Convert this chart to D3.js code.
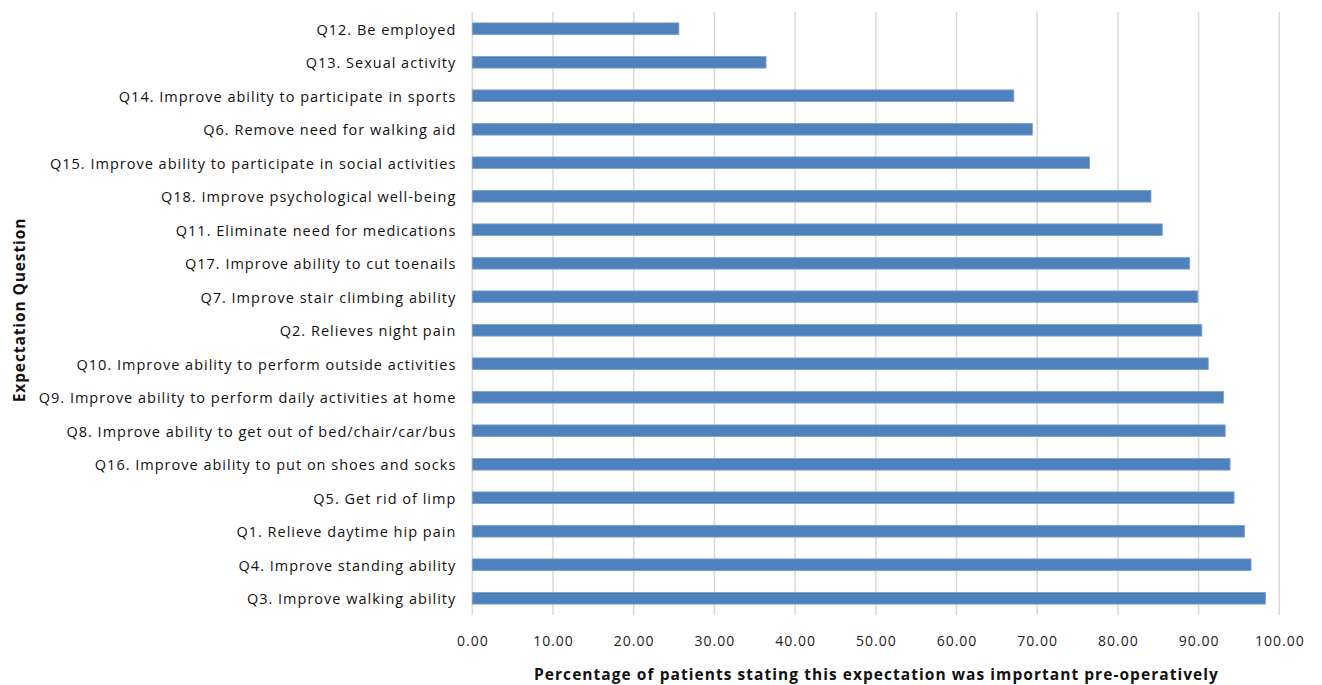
<!DOCTYPE html>
<html>
<head>
<meta charset="utf-8">
<script src="https://cdn.jsdelivr.net/npm/d3@7"></script>
<style>
  html, body { margin: 0; padding: 0; background: #fff; }
  svg { display: block; }
</style>
</head>
<body>
<svg id="chart" width="1322" height="685"></svg>
<script>
const categories = [
  "Q12. Be employed",
  "Q13. Sexual activity",
  "Q14. Improve ability to participate in sports",
  "Q6. Remove need for walking aid",
  "Q15. Improve ability to participate in social activities",
  "Q18. Improve psychological well-being",
  "Q11. Eliminate need for medications",
  "Q17. Improve ability to cut toenails",
  "Q7. Improve stair climbing ability",
  "Q2. Relieves night pain",
  "Q10. Improve ability to perform outside activities",
  "Q9. Improve ability to perform daily activities at home",
  "Q8. Improve ability to get out of bed/chair/car/bus",
  "Q16. Improve ability to put on shoes and socks",
  "Q5. Get rid of limp",
  "Q1. Relieve daytime hip pain",
  "Q4. Improve standing ability",
  "Q3. Improve walking ability"
];
const values = [25.6, 36.4, 67.1, 69.4, 76.5, 84.1, 85.5, 88.9, 89.9, 90.4, 91.2, 93.1, 93.3, 93.9, 94.4, 95.7, 96.5, 98.3];
const xTicks = [0, 10, 20, 30, 40, 50, 60, 70, 80, 90, 100];
const xTitle = "Percentage of patients stating this expectation was important pre-operatively";
const yTitle = "Expectation Question";

(function () {
const svg = d3.select("#chart");
const mLeft = 472.3, mRight = 1279.3, mTop = 12, mBottom = 615;
const FONT = "'Open Sans', sans-serif";

const x = d3.scaleLinear().domain([0, 100]).range([mLeft, mRight]);
const y = d3.scaleBand().domain(categories).range([mTop, mBottom]).paddingInner(0.65).paddingOuter(0.325);

// gridlines
svg.append("g").selectAll("line").data(xTicks).join("line")
  .attr("x1", d => x(d)).attr("x2", d => x(d))
  .attr("y1", mTop).attr("y2", mBottom)
  .attr("stroke", "#d9d9d9").attr("stroke-width", 1.5);

// bars
svg.append("g").selectAll("rect").data(categories).join("rect")
  .attr("x", x(0))
  .attr("y", d => y(d))
  .attr("width", (d, i) => x(values[i]) - x(0))
  .attr("height", y.bandwidth())
  .attr("fill", "#4f81bd")
  .attr("stroke", "#7fa3d1").attr("stroke-width", 0.8);

// x axis
const xAxis = d3.axisBottom(x).tickValues(xTicks).tickFormat(d3.format(".2f")).tickSize(0).tickPadding(21);
const gx = svg.append("g").attr("transform", `translate(0,${mBottom})`).call(xAxis);
gx.select(".domain").remove();
gx.selectAll("text").attr("font-family", FONT).attr("font-size", 14).attr("fill", "#222")
  .attr("letter-spacing", "1px");

// y axis
const yAxis = d3.axisLeft(y).tickSize(0).tickPadding(16);
const gy = svg.append("g").attr("transform", `translate(${mLeft},0)`).call(yAxis);
gy.select(".domain").remove();
gy.selectAll("text").attr("font-family", FONT).attr("font-size", 14.5).attr("fill", "#111")
  .attr("letter-spacing", "1px")
  .attr("dy", "0.4em");

// titles
svg.append("text")
  .attr("x", 876.5).attr("y", 680)
  .attr("text-anchor", "middle")
  .attr("font-family", FONT).attr("font-weight", "bold").attr("font-size", 15.5)
  .attr("letter-spacing", "1.05px")
  .attr("fill", "#111")
  .text(xTitle);

svg.append("text")
  .attr("transform", `translate(25,${310}) rotate(-90)`)
  .attr("text-anchor", "middle")
  .attr("font-family", FONT).attr("font-weight", "bold").attr("font-size", 15.5)
  .attr("letter-spacing", "0.9px")
  .attr("fill", "#111")
  .text(yTitle);
})();
</script>
</body>
</html>
